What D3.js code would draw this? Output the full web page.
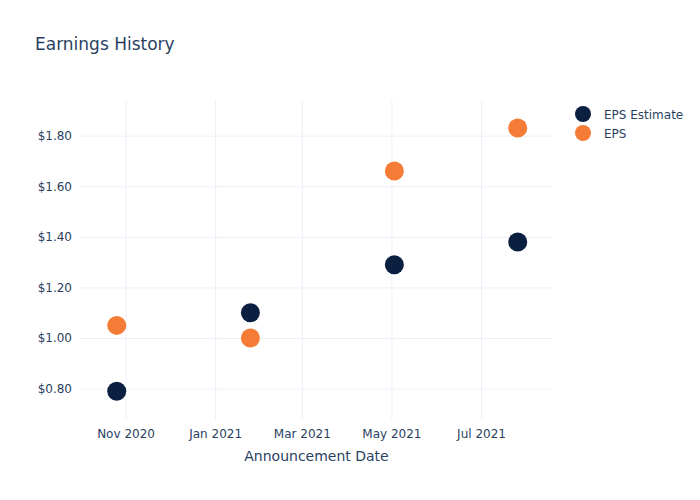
<!DOCTYPE html>
<html><head><meta charset="utf-8">
<script src="https://cdn.jsdelivr.net/npm/d3@7"></script>
<style>body{margin:0;background:#fff}svg{display:block}text{font-family:"DejaVu Sans",Verdana,sans-serif}</style>
</head><body>
<svg id="c" width="700" height="500"></svg>
<script>
const dates = ["2020-10-26","2021-01-25","2021-05-03","2021-07-26"];
const epsEstimate = [0.79, 1.10, 1.29, 1.38];
const eps = [1.05, 1.00, 1.66, 1.83];
const seriesNames = ["EPS Estimate","EPS"];
const seriesColors = ["#0b1f41","#f57c36"];
const yTicks = [0.8,1.0,1.2,1.4,1.6,1.8];
const xTicks = ["2020-11-01","2021-01-01","2021-03-01","2021-05-01","2021-07-01"];

const parse = d3.timeParse("%Y-%m-%d");
const svg = d3.select("#c");
const L=80,R=553,T=100,B=420;
const x = d3.scaleTime().domain([parse("2020-10-01"), parse("2021-08-19")]).range([L,R]);
const y = d3.scaleLinear().domain([0.676,1.941]).range([B,T]);
const txt="#2a3f5f", grid="#ebf0f8";

const gx = svg.append("g").attr("transform",`translate(0,${B})`)
  .call(d3.axisBottom(x).tickValues(xTicks.map(parse)).tickFormat(d3.timeFormat("%b %Y")).tickSize(-(B-T)).tickPadding(9));
gx.select(".domain").remove();
gx.selectAll("line").attr("stroke",grid);
gx.selectAll("text").attr("fill",txt).attr("font-size",12);

const gy = svg.append("g").attr("transform",`translate(${L},0)`)
  .call(d3.axisLeft(y).tickValues(yTicks).tickFormat(d=>"$"+d3.format(".2f")(d)).tickSize(-(R-L)).tickPadding(8));
gy.select(".domain").remove();
gy.selectAll("line").attr("stroke",grid);
gy.selectAll("text").attr("fill",txt).attr("font-size",12);

const series=[epsEstimate,eps];
series.forEach((vals,i)=>{
  svg.append("g").selectAll("circle").data(vals).join("circle")
    .attr("cx",(d,j)=>x(parse(dates[j]))).attr("cy",d=>y(d)).attr("r",9.5)
    .attr("fill",seriesColors[i]);
});

svg.append("text").attr("x",35).attr("y",50).attr("font-size",17).attr("fill",txt).text("Earnings History");
svg.append("text").attr("x",(L+R)/2).attr("y",461).attr("text-anchor","middle").attr("font-size",14).attr("fill",txt).text("Announcement Date");

seriesNames.forEach((n,i)=>{
  const g=svg.append("g").attr("transform",`translate(0,${114+i*19})`);
  g.append("circle").attr("cx",583).attr("cy",0).attr("r",8).attr("fill",seriesColors[i]);
  g.append("text").attr("x",604).attr("y",4.5).attr("font-size",12).attr("fill",txt).text(n);
});
</script>
</body></html>
